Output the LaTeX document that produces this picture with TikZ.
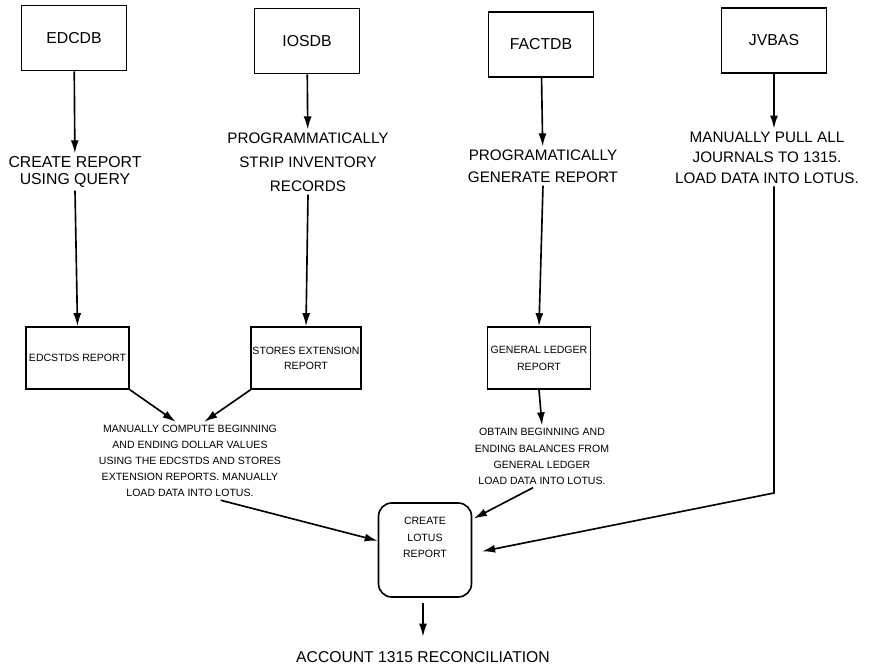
\documentclass[tikz,border=0pt]{standalone}
\usepackage{fontspec}
\setmainfont{Liberation Sans}
\usetikzlibrary{arrows.meta}

\begin{document}
\begin{tikzpicture}[
              x = 0.03cm, y = -0.03cm,
              line width = 1.4pt,
              >={Latex[length=3.9mm, width=2.4mm]},
              dbbox/.style = {draw, minimum width = 3.15cm, minimum height = 1.95cm,
                              font = \fontsize{13.5}{16}\selectfont},
              repbox/.style = {draw, minimum width = 3.1cm, minimum height = 1.86cm,
                               align = center, inner sep = 1pt},
              bigstep/.style = {align = center, inner sep = 2pt},
              smallstep/.style = {align = center, inner sep = 2pt,
                                  font = \fontsize{9}{13.8}\selectfont}
            ]
            \useasboundingbox (0, 0) rectangle (882, 666);
            % nodes: the data bases
            \node[dbbox] (edcdb)  at (74,  38)   {EDCDB};
            \node[dbbox] (iosdb)  at (307, 41)   {IOSDB};
            \node[dbbox] (factdb) at (541, 44.5) {FACTDB};
            \node[dbbox] (jvbas)  at (774, 40.5) {JVBAS};
            % nodes: what is done with them
            \node[bigstep, font = \fontsize{13.5}{14.5}\selectfont] (query) at (75, 172)
              {CREATE REPORT\\USING QUERY};
            \node[bigstep, font = \fontsize{13}{20.5}\selectfont] (strip) at (308, 162)
              {PROGRAMMATICALLY\\STRIP INVENTORY\\RECORDS};
            \node[bigstep, font = \fontsize{13}{18.8}\selectfont] (generate) at (543, 166)
              {PROGRAMATICALLY\\GENERATE REPORT};
            \node[bigstep, font = \fontsize{13}{17.5}\selectfont] (journals) at (767, 157.5)
              {MANUALLY PULL ALL\\JOURNALS TO 1315.\\LOAD DATA INTO LOTUS.};
            % nodes: the reports
            \node[repbox, font = \fontsize{9}{12.8}\selectfont] (edcstds) at (77.5, 358)
              {EDCSTDS REPORT};
            \node[repbox, font = \fontsize{9}{12.8}\selectfont] (stores)  at (306, 358)
              {STORES EXTENSION\\REPORT};
            \node[repbox, font = \fontsize{9}{14.5}\selectfont] (ledger) at (539, 358)
              {GENERAL LEDGER\\REPORT};
            \node[smallstep] (compute) at (190, 461)
              {MANUALLY COMPUTE BEGINNING\\AND ENDING DOLLAR VALUES\\USING THE EDCSTDS AND STORES\\EXTENSION REPORTS. MANUALLY\\LOAD DATA INTO LOTUS.};
            \node[smallstep] (obtain) at (542, 456.5)
              {OBTAIN BEGINNING AND\\ENDING BALANCES FROM\\GENERAL LEDGER\\LOAD DATA INTO LOTUS.};
            % nodes: the lotus report and the result
            \node[draw, rounded corners = 0.4cm, minimum width = 2.79cm, minimum height = 2.82cm,
                  label = {[anchor = north, yshift = -0.32cm, align = center,
                            font = \fontsize{9}{13.8}\selectfont]north:CREATE\\LOTUS\\REPORT}]
              (lotus) at (425, 550) {};
            \node[font = \fontsize{13.4}{16}\selectfont, inner sep = 2pt] (account) at (423, 657)
              {ACCOUNT 1315 RECONCILIATION};
            \coordinate (jvcorner) at (774, 493);
            % the first step
            \draw[->] (edcdb)  -- (query);
            \draw[->] (iosdb)  -- (strip);
            \draw[->] (factdb) -- (generate);
            \draw[->] (jvbas)  -- (jvbas |- journals.north);
            % the second step
            \draw[->] (query.south)    -- (edcstds.north);
            \draw[->] (strip.south)    -- (stores.north);
            \draw[->] (generate.south) -- (ledger.north);
            \draw[->] (ledger.south)   -- (obtain.north);
            \draw[->] (edcstds.south east) -- (compute.110);
            \draw[->] (stores.south west)  -- (compute.70);
            % into lotus
            \draw[->] (compute.-52)  -- (lotus.169);
            \draw[->, shorten >= 0.05cm] (obtain.-106) -- (lotus.33);
            \draw[->, shorten >= 0.3cm] (jvcorner |- journals.south) -- (jvcorner) -- (lotus.-4);
            \draw[->, shorten <= 0.15cm, shorten >= 0.35cm] (account.north |- lotus.south) -- (account.north);
          \end{tikzpicture}
\end{document}
